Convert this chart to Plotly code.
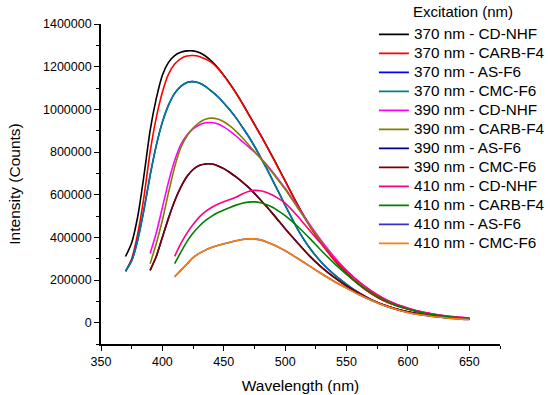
import plotly.graph_objects as go

# Wavelength grids (nm) for each excitation group
wl_370 = list(range(370, 500, 5)) + list(range(500, 651, 10))
wl_390 = list(range(390, 500, 5)) + list(range(500, 651, 10))
wl_410 = list(range(410, 500, 5)) + list(range(500, 651, 10))

# Intensities (thousands of counts)
i370_cdnhf = [310, 375, 500, 690, 900, 1050, 1160, 1220, 1252, 1267, 1274, 1274, 1266, 1250, 1226, 1196,
              1160, 1120, 1077, 1030, 980, 930, 880, 828, 775, 720,
              665, 555, 455, 370, 295, 232, 180, 138, 105, 82, 65, 50, 38, 30, 24, 20]
i370_carb = [241, 300, 420, 590, 800, 960, 1080, 1165, 1212, 1238, 1250, 1252, 1248, 1236, 1220, 1193,
             1158, 1118, 1075, 1028, 978, 928, 878, 826, 773, 718,
             663, 553, 453, 368, 293, 230, 178, 136, 104, 80, 63, 48, 37, 29, 23, 19]
i370_cmc = [241, 290, 390, 530, 690, 830, 940, 1020, 1075, 1108, 1126, 1130, 1124, 1108, 1085, 1060,
            1030, 997, 960, 918, 875, 827, 775, 722, 665, 608,
            550, 440, 350, 280, 225, 180, 140, 108, 83, 64, 50, 39, 31, 25, 21, 18]
i370_as = list(i370_cmc)

i390_cdnhf = [324, 420, 540, 660, 760, 835, 880, 908, 927, 937, 938, 932, 918, 898, 875, 850,
              825, 800, 772, 740, 705, 668,
              630, 545, 460, 380, 308, 245, 192, 148, 113, 87, 68, 52, 41, 32, 26, 22]
i390_carb = [276, 370, 480, 610, 730, 820, 875, 912, 938, 954, 959, 955, 942, 922, 897, 868,
             835, 802, 770, 736, 700, 663,
             625, 540, 455, 375, 303, 241, 189, 146, 111, 85, 66, 51, 40, 31, 25, 21]
i390_cmc = [245, 310, 400, 490, 570, 635, 685, 718, 737, 744, 744, 736, 722, 704, 683, 660,
            635, 606, 575, 543, 510, 475,
            440, 375, 312, 258, 212, 172, 138, 108, 84, 65, 51, 40, 32, 26, 21, 18]
i390_as = list(i390_cmc)

i410_cdnhf = [311, 370, 420, 460, 495, 520, 540, 555, 567, 577, 588, 603, 615, 620, 618, 610, 597, 580,
              560, 500, 432, 365, 300, 242, 192, 150, 115, 88, 68, 52, 41, 32, 26, 21]
i410_carb = [277, 330, 380, 420, 452, 478, 498, 515, 528, 540, 551, 560, 565, 566, 562, 553, 540, 522,
             502, 452, 395, 335, 278, 226, 180, 141, 108, 83, 64, 49, 38, 30, 24, 20]
i410_cmc = [215, 245, 275, 305, 325, 340, 352, 362, 370, 377, 384, 390, 393, 393, 388, 378, 366, 352,
            337, 302, 265, 228, 193, 162, 132, 105, 82, 63, 48, 37, 29, 23, 18, 15]
i410_as = list(i410_cmc)

names = ["370 nm - CD-NHF", "370 nm - CARB-F4", "370 nm - AS-F6", "370 nm - CMC-F6",
         "390 nm - CD-NHF", "390 nm - CARB-F4", "390 nm - AS-F6", "390 nm - CMC-F6",
         "410 nm - CD-NHF", "410 nm - CARB-F4", "410 nm - AS-F6", "410 nm - CMC-F6"]
xs = [wl_370] * 4 + [wl_390] * 4 + [wl_410] * 4
ys = [i370_cdnhf, i370_carb, i370_as, i370_cmc,
      i390_cdnhf, i390_carb, i390_as, i390_cmc,
      i410_cdnhf, i410_carb, i410_as, i410_cmc]
colors = ["#000000", "#FF0000", "#0000FF", "#008080",
          "#FF00FF", "#808000", "#000080", "#800000",
          "#FF0080", "#008000", "#3333CC", "#FF8000"]

FONT = "Arial, Liberation Sans, sans-serif"

fig = go.Figure()
for name, x, y, c in zip(names, xs, ys, colors):
    fig.add_trace(go.Scatter(
        x=x, y=[v * 1000 for v in y], mode="lines",
        name='<span style="font-size:15.3px">' + name + '</span>',
        line=dict(color=c, width=1.6, shape="spline", smoothing=0.6)))

fig.update_layout(
    width=550, height=395,
    margin=dict(l=101, r=50, t=24, b=51, autoexpand=False),
    paper_bgcolor="white", plot_bgcolor="white",
    font=dict(family=FONT, color="black"),
    showlegend=True,
    legend=dict(x=0.684, y=1.013, xanchor="left", yanchor="top",
                font=dict(size=12.3, family=FONT), bgcolor="rgba(0,0,0,0)",
                tracegroupgap=0, itemwidth=30, maxheight=390),
    annotations=[dict(text="Excitation (nm)", xref="paper", yref="paper",
                      x=(411 - 101) / 399, y=1 + (24 - 12) / 320, xanchor="left", yanchor="middle",
                      showarrow=False, font=dict(size=15, family=FONT))],
)
fig.update_xaxes(
    range=[350, 675], showgrid=False, zeroline=False, automargin=False,
    showline=True, linecolor="black", linewidth=1.6,
    ticks="outside", ticklen=5, tickwidth=1.4, tickcolor="black",
    tickvals=[350, 400, 450, 500, 550, 600, 650],
    minor=dict(ticks="outside", ticklen=3, tickwidth=1.2, tickcolor="black", dtick=25, tick0=325),
    tickfont=dict(size=12.5, family=FONT),
    title=dict(text="Wavelength (nm)", font=dict(size=15.5, family=FONT), standoff=12),
)
fig.update_yaxes(
    range=[-100000, 1400000], showgrid=False, zeroline=False, automargin=False,
    showline=True, linecolor="black", linewidth=1.6,
    ticks="outside", ticklen=5, tickwidth=1.4, tickcolor="black",
    tickvals=[0, 200000, 400000, 600000, 800000, 1000000, 1200000, 1400000],
    tickformat="d",
    minor=dict(ticks="outside", ticklen=3, tickwidth=1.2, tickcolor="black", dtick=100000, tick0=0),
    tickfont=dict(size=12.5, family=FONT),
    title=dict(text="Intensity (Counts)", font=dict(size=15.5, family=FONT), standoff=19),
)

fig.write_html("out.html", config={"displayModeBar": False},
               post_script="document.body.style.margin='0';document.body.style.overflow='hidden';")
